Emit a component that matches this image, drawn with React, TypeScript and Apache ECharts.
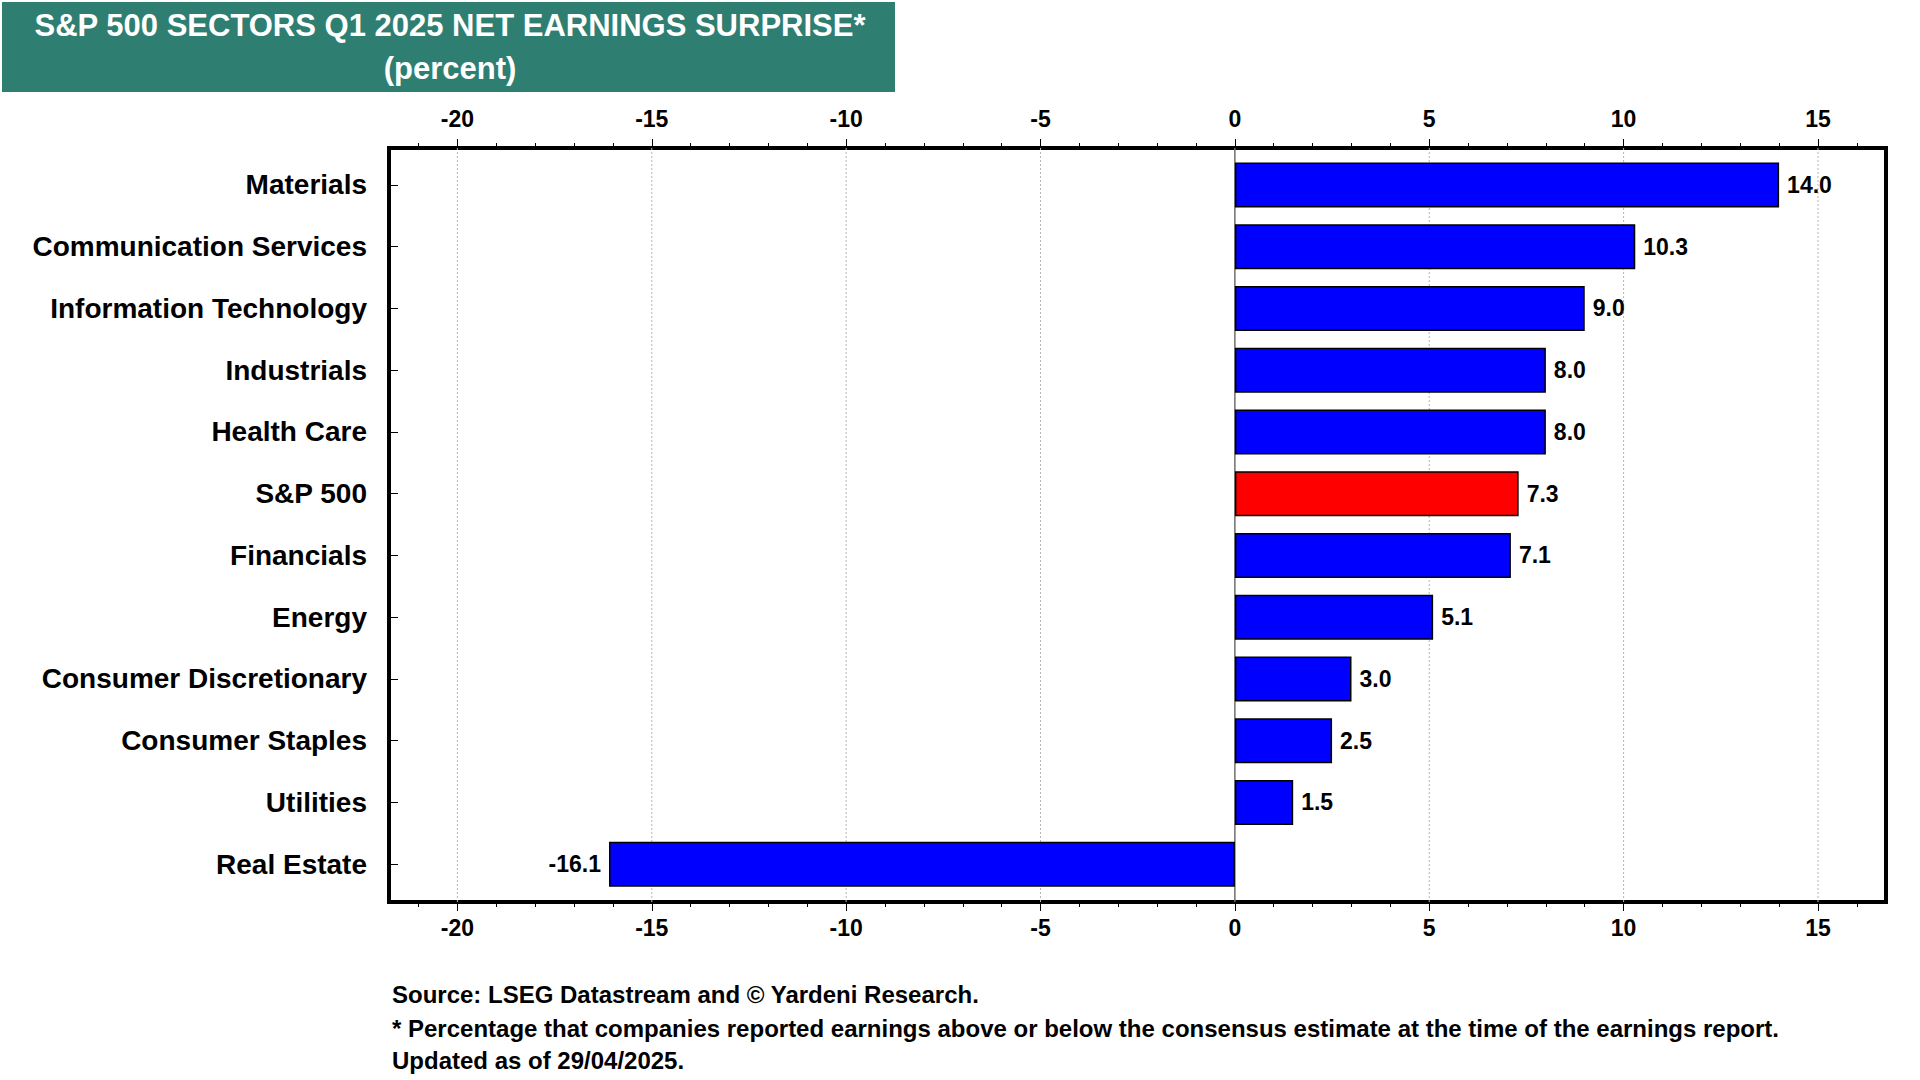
import React, { useEffect, useRef } from "react";
import * as echarts from "echarts";

const titleLines = ["S&P 500 SECTORS Q1 2025 NET EARNINGS SURPRISE*", "(percent)"];
const sectors = [
  "Materials",
  "Communication Services",
  "Information Technology",
  "Industrials",
  "Health Care",
  "S&P 500",
  "Financials",
  "Energy",
  "Consumer Discretionary",
  "Consumer Staples",
  "Utilities",
  "Real Estate",
];
const surprise = [14.0, 10.3, 9.0, 8.0, 8.0, 7.3, 7.1, 5.1, 3.0, 2.5, 1.5, -16.1];
const highlighted = ["S&P 500"];
const majorTicks = [-20, -15, -10, -5, 0, 5, 10, 15];
const minorTicks = [-21, -20, -19, -18, -17, -16, -15, -14, -13, -12, -11, -10, -9, -8, -7, -6, -5, -4, -3, -2, -1, 0, 1, 2, 3, 4, 5, 6, 7, 8, 9, 10, 11, 12, 13, 14, 15, 16];
const axisMin = -21.76;
const axisMax = 16.75;
const footnotes = [
  "Source: LSEG Datastream and \u00A9 Yardeni Research.",
  "* Percentage that companies reported earnings above or below the consensus estimate at the time of the earnings report.",
  "Updated as of 29/04/2025.",
];

const FONT = '"Liberation Sans", Arial, Helvetica, sans-serif';

export default function App() {
  const ref = useRef<HTMLDivElement>(null);

  useEffect(() => {
    document.body.style.margin = "0";
    if (!ref.current) return;
    const chart = echarts.init(ref.current, undefined, { renderer: "svg" });

    const frame = { left: 389, top: 148, width: 1497, height: 754 };
    const tickLabelStyle = {
      color: "#000",
      fontFamily: FONT,
      fontWeight: "bold" as const,
      fontSize: 23,
    };

    const majorAxis = (position: "top" | "bottom", margin: number) => ({
      type: "value" as const,
      gridIndex: 0,
      position,
      min: axisMin,
      max: axisMax,
      axisLine: { show: false, onZero: false },
      axisTick: {
        show: true,
        customValues: majorTicks,
        length: 9,
        lineStyle: { color: "#000", width: 1 },
      },
      axisLabel: {
        show: true,
        customValues: majorTicks,
        margin,
        ...tickLabelStyle,
      },
      splitLine: { show: false },
    });

    const minorAxis = (position: "top" | "bottom") => ({
      type: "value" as const,
      gridIndex: 1,
      position,
      min: axisMin,
      max: axisMax,
      axisLine: { show: false, onZero: false },
      axisTick: {
        show: true,
        customValues: minorTicks,
        length: 5,
        lineStyle: { color: "#000", width: 1 },
      },
      axisLabel: { show: false },
      splitLine: { show: false },
    });

    const barData = surprise.map((v, i) => ({
      value: v,
      itemStyle: { color: highlighted.includes(sectors[i]) ? "#FF0000" : "#0000FF" },
      label: { position: v < 0 ? ("left" as const) : ("right" as const) },
    }));

    const option: any = {
      animation: false,
      backgroundColor: "#fff",
      grid: [
        { ...frame, show: true, borderColor: "#000", borderWidth: 4, backgroundColor: "transparent", containLabel: false },
        { ...frame, show: false, containLabel: false },
        { left: 389, top: 154, width: 1497, height: 741, show: false, containLabel: false },
      ],
      xAxis: [
        majorAxis("bottom", 14),
        majorAxis("top", 18),
        minorAxis("bottom"),
        minorAxis("top"),
        { type: "value", gridIndex: 2, min: axisMin, max: axisMax, show: false },
      ],
      yAxis: [
        { type: "value", gridIndex: 0, min: 0, max: 1, show: false },
        { type: "value", gridIndex: 1, min: 0, max: 1, show: false },
        {
          type: "category",
          gridIndex: 2,
          position: "left",
          data: sectors,
          inverse: true,
          axisLine: { show: false, onZero: false },
          axisTick: {
            show: true,
            inside: true,
            length: 9,
            alignWithLabel: true,
            lineStyle: { color: "#000", width: 1 },
          },
          axisLabel: {
            margin: 22,
            color: "#000",
            fontFamily: FONT,
            fontWeight: "bold",
            fontSize: 28,
            padding: [0, 0, 5, 0],
          },
          splitLine: { show: false },
        },
      ],
      graphic: [
        {
          type: "rect",
          shape: { x: 2, y: 2, width: 893, height: 90 },
          style: { fill: "#2E7E72" },
          silent: true,
        },
        ...titleLines.map((t, i) => ({
          type: "text",
          x: 450,
          y: i === 0 ? 25 : 68,
          style: {
            text: t,
            fill: "#fff",
            font: `bold 31px ${FONT}`,
            textAlign: "center",
            textVerticalAlign: "middle",
            align: "center",
            verticalAlign: "middle",
          },
          silent: true,
        })),
        ...footnotes.map((t, i) => ({
          type: "text",
          x: 392,
          y: [994, 1028, 1060][i],
          style: {
            text: t,
            fill: "#000",
            font: `bold 24px ${FONT}`,
            textAlign: "left",
            textVerticalAlign: "middle",
            align: "left",
            verticalAlign: "middle",
          },
          silent: true,
        })),
      ],
      series: [
        {
          type: "custom",
          xAxisIndex: 0,
          yAxisIndex: 0,
          z: 1,
          silent: true,
          data: majorTicks.map((v) => [v]),
          renderItem: (params: any, api: any) => {
            const v = api.value(0);
            const x = api.coord([v, 0])[0];
            const cs = params.coordSys;
            const isZero = v === 0;
            return {
              type: "line",
              shape: { x1: x, y1: cs.y, x2: x, y2: cs.y + cs.height },
              style: {
                stroke: isZero ? "#6e6e6e" : "#b4b4b4",
                lineWidth: isZero ? 1.5 : 1,
                lineDash: isZero ? null : [2, 2],
              },
            };
          },
        },
        {
          type: "bar",
          xAxisIndex: 4,
          yAxisIndex: 2,
          z: 2,
          barWidth: 45,
          data: barData,
          itemStyle: { borderColor: "#000", borderWidth: 1.5 },
          label: {
            show: true,
            distance: 8,
            color: "#000",
            fontFamily: FONT,
            fontWeight: "bold",
            fontSize: 23,
            formatter: (p: any) => Number(p.value).toFixed(1),
          },
        },
      ],
    };

    chart.setOption(option);
    return () => chart.dispose();
  }, []);

  return <div ref={ref} style={{ width: 1920, height: 1080 }} />;
}
